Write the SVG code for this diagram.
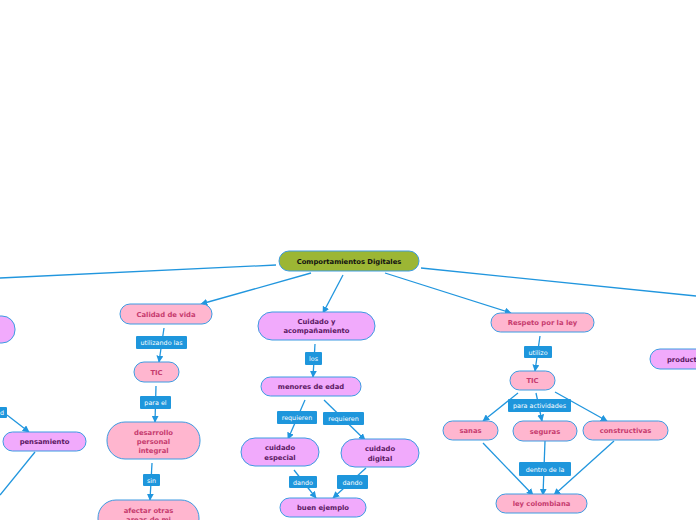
<svg xmlns="http://www.w3.org/2000/svg" width="696" height="520" viewBox="0 0 696 520">
<defs>
<marker id="ah" viewBox="0 0 10 10" refX="9" refY="5" markerWidth="7" markerHeight="7" markerUnits="userSpaceOnUse" orient="auto">
<path d="M0,0 L10,5 L0,10 z" fill="#2196DE"/>
</marker>
<style>
.c{stroke:#2196DE;stroke-width:1.3;fill:none}
.ca{stroke:#2196DE;stroke-width:1.3;fill:none;marker-end:url(#ah)}
.pk{fill:#FFB6CF;stroke:#3C9BE2;stroke-width:1}
.pu{fill:#F1AAFC;stroke:#3C9BE2;stroke-width:1}
.rt{fill:#9CB634;stroke:#3C9BE2;stroke-width:1}
.lb{fill:#1E96DC}
.tp{font-family:"DejaVu Sans",Verdana,sans-serif;font-size:6.8px;font-weight:bold;fill:#C63B6E;text-anchor:middle}
.tu{font-family:"DejaVu Sans",Verdana,sans-serif;font-size:6.8px;font-weight:bold;fill:#5B1862;text-anchor:middle}
.tr{font-family:"DejaVu Sans",Verdana,sans-serif;font-size:6.8px;font-weight:bold;fill:#111;text-anchor:middle}
.tl{font-family:"DejaVu Sans",Verdana,sans-serif;font-size:6.4px;fill:#fff;text-anchor:middle}
</style>
</defs>
<rect width="696" height="520" fill="#fff"/>
<g id="connectors">
<path class="c" d="M276,265 L0,278"/>
<path class="ca" d="M311,273 L201,304"/>
<path class="ca" d="M343,275 L323,313"/>
<path class="ca" d="M385,273 L511,313"/>
<path class="c" d="M421,268 L696,296"/>
<path class="ca" d="M164,328 L159,362"/>
<path class="ca" d="M156,386 L155,422"/>
<path class="ca" d="M152,463 L150,500"/>
<path class="ca" d="M7,415 L29,432"/>
<path class="c" d="M35,452 L0,495"/>
<path class="ca" d="M315,344 L313,377"/>
<path class="ca" d="M305,400 L288,439"/>
<path class="ca" d="M324,400 L365,440"/>
<path class="ca" d="M294,470 L316,498"/>
<path class="ca" d="M366,468 L333,498"/>
<path class="ca" d="M540,336 L535,371"/>
<path class="ca" d="M518,393 L483,421"/>
<path class="ca" d="M536,393 L542,421"/>
<path class="ca" d="M555,392 L607,421"/>
<path class="ca" d="M483,443 L533,495"/>
<path class="ca" d="M545,441 L543,495"/>
<path class="ca" d="M614,441 L554,495"/>
<g id="labels">
<rect class="lb" x="136" y="336" width="51" height="13" rx="1"/><text class="tl" x="161.5" y="345">utilizando las</text>
<rect class="lb" x="140" y="396" width="31" height="13" rx="1"/><text class="tl" x="155.5" y="405">para el</text>
<rect class="lb" x="143" y="474" width="17" height="12" rx="1"/><text class="tl" x="151.5" y="482.5">sin</text>
<rect class="lb" x="-10" y="407" width="17" height="11" rx="1"/><text class="tl" x="2" y="415">d</text>
<rect class="lb" x="305" y="352" width="17" height="13" rx="1"/><text class="tl" x="313.5" y="361">los</text>
<rect class="lb" x="277" y="411" width="40" height="13" rx="1"/><text class="tl" x="297" y="420">requieren</text>
<rect class="lb" x="323" y="412" width="41" height="13" rx="1"/><text class="tl" x="343.5" y="421">requieren</text>
<rect class="lb" x="289" y="476" width="28" height="12" rx="1"/><text class="tl" x="303" y="484.5">dando</text>
<rect class="lb" x="337" y="475" width="31" height="14" rx="1"/><text class="tl" x="352.5" y="484.5">dando</text>
<rect class="lb" x="524" y="346" width="28" height="12" rx="1"/><text class="tl" x="538" y="354.5">utilizo</text>
<rect class="lb" x="508" y="399" width="63" height="13" rx="1"/><text class="tl" x="539.5" y="408">para actividades</text>
<rect class="lb" x="519" y="462" width="52" height="14" rx="1"/><text class="tl" x="545" y="471.5">dentro de la</text>
</g>
</g>
<g id="root"><rect class="rt" x="279" y="251" width="140" height="20" rx="10"/><text class="tr" x="349" y="263.5">Comportamientos Digitales</text></g>
<g id="n-left"><rect class="pu" x="-80" y="316" width="95" height="27" rx="13"/></g>
<g id="n-pensamiento"><rect class="pu" x="3" y="432" width="83" height="19" rx="9.5"/><text class="tu" x="44.5" y="444">pensamiento</text></g>
<g id="n-calidad"><rect class="pk" x="120" y="304" width="92" height="20" rx="10"/><text class="tp" x="166" y="316.5">Calidad de vida</text></g>
<g id="n-tic1"><rect class="pk" x="134" y="362" width="45" height="20" rx="10"/><text class="tp" x="156.5" y="374.5">TIC</text></g>
<g id="n-desarrollo"><rect class="pk" x="107" y="422" width="93" height="37" rx="18"/><text class="tp" x="153.5" y="434.5">desarrollo</text><text class="tp" x="153.5" y="443.5">personal</text><text class="tp" x="153.5" y="452.5">integral</text></g>
<g id="n-afectar"><rect class="pk" x="98" y="500" width="101" height="37" rx="18"/><text class="tp" x="148.5" y="512.5">afectar otras</text><text class="tp" x="148.5" y="521.5">areas de mi</text></g>
<g id="n-cuidado"><rect class="pu" x="258" y="312" width="117" height="28" rx="14"/><text class="tu" x="316.5" y="324">Cuidado y</text><text class="tu" x="316.5" y="333">acompañamiento</text></g>
<g id="n-menores"><rect class="pu" x="261" y="377" width="100" height="19" rx="9.5"/><text class="tu" x="311" y="389">menores de edad</text></g>
<g id="n-especial"><rect class="pu" x="241" y="438" width="78" height="28" rx="14"/><text class="tu" x="280" y="450">cuidado</text><text class="tu" x="280" y="459.5">especial</text></g>
<g id="n-digital"><rect class="pu" x="341" y="439" width="78" height="28" rx="14"/><text class="tu" x="380" y="451">cuidado</text><text class="tu" x="380" y="460.5">digital</text></g>
<g id="n-buen"><rect class="pu" x="280" y="498" width="86" height="19" rx="9.5"/><text class="tu" x="323" y="510">buen ejemplo</text></g>
<g id="n-respeto"><rect class="pk" x="491" y="313" width="103" height="19" rx="9.5"/><text class="tp" x="542.5" y="325">Respeto por la ley</text></g>
<g id="n-tic2"><rect class="pk" x="510" y="371" width="45" height="19" rx="9.5"/><text class="tp" x="532.5" y="383">TIC</text></g>
<g id="n-sanas"><rect class="pk" x="443" y="421" width="55" height="19" rx="9.5"/><text class="tp" x="470.5" y="433">sanas</text></g>
<g id="n-seguras"><rect class="pk" x="513" y="421" width="64" height="20" rx="10"/><text class="tp" x="545" y="433.5">seguras</text></g>
<g id="n-constructivas"><rect class="pk" x="583" y="421" width="85" height="19" rx="9.5"/><text class="tp" x="625.5" y="433">constructivas</text></g>
<g id="n-ley"><rect class="pk" x="496" y="494" width="91" height="19" rx="9.5"/><text class="tp" x="541.5" y="506">ley colombiana</text></g>
<g id="n-product"><rect class="pu" x="650" y="349" width="80" height="20" rx="10"/><text class="tu" x="667" y="361.5" style="text-anchor:start">product</text></g>
</svg>
